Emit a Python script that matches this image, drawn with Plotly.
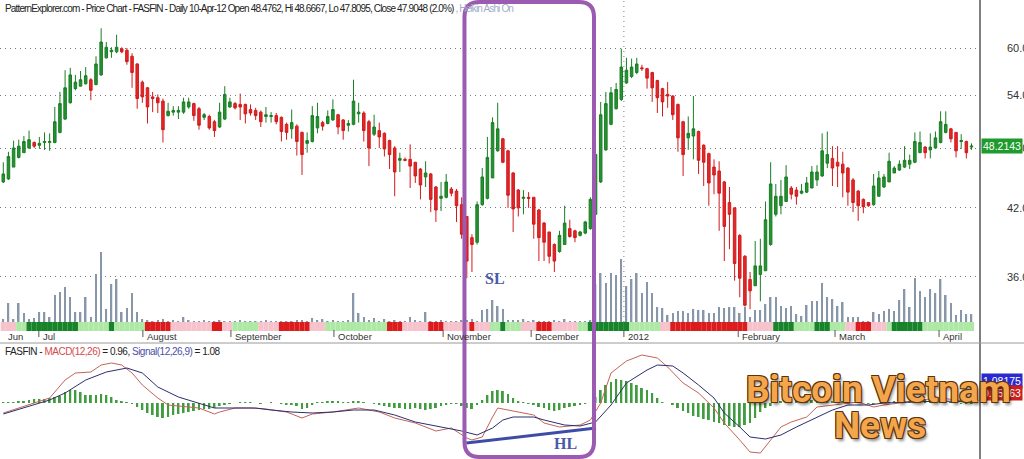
import math
import plotly.graph_objects as go

# ── Data ─────────────────────────────────────────────────────────────────────
# Heikin-Ashi candles, one per trading day, 21-Jun-2011 .. 10-Apr-2012

candle_open = [
    44.5, 44.8, 46.0, 47.0, 47.5, 48.0, 48.6, 48.3, 48.6, 48.6,
    48.6, 49.7, 51.2, 53.1, 54.8, 55.1, 55.4, 55.9, 55.3, 56.5,
    58.7, 59.5, 59.5, 59.9, 59.7, 58.9, 57.9, 55.6, 54.9, 53.8,
    53.7, 53.3, 51.6, 52.0, 52.0, 52.0, 52.6, 53.0, 52.4, 51.4,
    51.5, 50.9, 50.3, 51.2, 52.6, 53.0, 52.9, 52.9, 52.3, 52.2,
    52.0, 51.5, 51.5, 51.6, 51.4, 50.6, 50.1, 50.4, 49.7, 48.5,
    48.7, 50.2, 50.8, 50.7, 51.1, 51.7, 51.1, 50.5, 50.6, 51.8,
    51.9, 50.9, 49.5, 49.9, 49.6, 48.8, 48.0, 46.7, 46.8, 46.8,
    46.5, 45.8, 45.0, 45.3, 44.0, 42.9, 43.0, 43.8, 43.6, 42.3,
    41.2, 39.3, 38.9, 42.3, 42.9, 44.9, 47.7, 49.0, 47.7, 45.4,
    43.7, 42.9, 43.0, 43.0, 41.8, 40.6, 39.8, 38.7, 38.1, 38.7,
    40.1, 39.9, 39.5, 39.7, 40.1, 41.4, 44.5, 47.8, 50.6, 52.4,
    53.5, 55.5, 56.3, 56.8, 57.4, 57.3, 56.8, 55.8, 54.8, 54.1,
    53.9, 52.9, 50.9, 49.1, 49.3, 49.8, 48.3, 47.4, 46.0, 45.6,
    44.5, 42.5, 42.0, 39.5, 37.7, 35.8, 35.3, 36.2, 36.5, 38.7,
    41.4, 42.2, 42.6, 43.9, 43.7, 43.4, 43.5, 43.9, 44.7, 45.1,
    46.4, 46.9, 46.5, 46.3, 45.9, 44.7, 43.6, 42.8, 42.5, 42.3,
    43.1, 44.0, 44.5, 45.4, 45.7, 46.0, 46.3, 46.5, 47.5, 48.1,
    47.8, 48.0, 48.6, 49.7, 50.1, 49.7, 48.7, 48.7, 48.1,
]
candle_high = [
    46.5, 47.6, 48.8, 48.9, 49.3, 49.9, 48.7, 49.2, 49.7, 49.6,
    52.6, 54.4, 57.1, 57.4, 56.5, 57.0, 57.5, 56.1, 58.9, 62.7,
    60.8, 60.1, 61.8, 60.1, 60.0, 59.3, 58.0, 55.8, 55.0, 54.4,
    54.1, 53.6, 53.1, 52.7, 52.7, 53.7, 53.7, 53.1, 52.6, 51.9,
    51.7, 51.1, 53.1, 55.1, 53.7, 53.2, 54.2, 53.0, 52.9, 52.5,
    52.2, 52.6, 52.0, 51.9, 51.5, 50.8, 52.3, 50.6, 49.8, 49.7,
    52.7, 53.1, 51.0, 52.2, 53.5, 51.8, 51.2, 51.1, 55.9, 53.1,
    52.1, 51.1, 51.7, 50.8, 49.7, 48.9, 48.2, 47.5, 47.0, 48.4,
    46.5, 45.9, 46.6, 45.4, 44.1, 44.5, 45.3, 44.0, 43.8, 43.0,
    41.2, 39.6, 42.6, 45.9, 49.2, 51.4, 53.1, 49.1, 47.8, 45.5,
    43.8, 43.7, 43.5, 43.0, 41.9, 40.7, 39.8, 38.8, 39.9, 42.2,
    40.9, 40.0, 39.9, 40.8, 43.0, 48.6, 53.2, 54.4, 55.0, 55.5,
    59.9, 58.7, 58.6, 58.7, 57.8, 57.4, 56.9, 55.9, 54.9, 55.6,
    54.0, 53.0, 51.0, 51.5, 53.9, 49.9, 48.4, 47.5, 46.8, 46.6,
    44.6, 44.0, 42.0, 39.6, 37.8, 36.4, 39.0, 39.2, 42.6, 46.5,
    44.3, 44.7, 46.2, 44.1, 44.0, 44.3, 45.0, 46.1, 46.2, 49.6,
    49.8, 48.2, 48.2, 47.6, 46.0, 44.9, 43.7, 42.9, 42.5, 45.3,
    45.6, 45.3, 47.5, 46.1, 46.7, 48.2, 47.3, 49.7, 49.8, 48.2,
    49.6, 49.8, 52.1, 52.1, 50.2, 49.7, 49.5, 48.8, 48.5,
]
candle_low = [
    44.4, 44.7, 46.0, 46.9, 47.5, 47.9, 48.0, 47.9, 47.8, 47.7,
    48.5, 49.6, 51.1, 53.0, 54.6, 55.1, 55.3, 53.4, 55.2, 56.4,
    58.6, 58.7, 59.3, 59.3, 57.8, 54.9, 52.4, 53.1, 50.7, 52.0,
    51.9, 48.6, 51.5, 51.6, 51.2, 51.8, 52.4, 51.0, 50.0, 51.1,
    50.0, 49.2, 50.2, 51.1, 52.5, 52.3, 51.1, 50.7, 51.6, 51.1,
    50.3, 50.8, 50.8, 50.6, 48.7, 48.9, 49.0, 47.2, 45.2, 47.5,
    48.6, 49.6, 49.9, 50.6, 51.0, 49.5, 48.9, 49.8, 50.5, 50.8,
    48.7, 46.1, 49.3, 48.0, 47.1, 45.8, 43.1, 45.5, 46.6, 43.9,
    44.4, 42.8, 44.0, 41.6, 40.7, 41.7, 42.9, 43.1, 40.7, 39.2,
    35.9, 36.4, 38.7, 42.2, 42.8, 44.9, 47.6, 46.4, 42.0, 39.8,
    41.2, 41.4, 42.0, 39.2, 37.3, 37.3, 37.1, 36.4, 38.0, 38.7,
    39.3, 38.9, 39.4, 39.6, 40.0, 41.3, 44.4, 47.7, 50.5, 52.3,
    53.3, 55.4, 56.1, 56.6, 57.0, 54.8, 53.2, 51.9, 51.5, 52.5,
    51.1, 47.6, 45.1, 47.8, 46.8, 45.3, 44.1, 42.2, 43.3, 39.9,
    37.3, 38.3, 35.7, 34.4, 33.7, 33.5, 35.3, 34.1, 36.5, 38.6,
    41.2, 41.4, 42.6, 42.8, 42.3, 43.3, 43.4, 43.9, 44.1, 45.0,
    45.9, 44.1, 44.0, 43.0, 42.2, 41.6, 40.8, 41.5, 42.1, 42.2,
    43.1, 43.9, 44.5, 45.4, 45.6, 45.9, 45.8, 46.4, 47.5, 46.9,
    46.9, 48.0, 48.5, 49.6, 48.6, 47.0, 47.9, 46.9, 47.8,
]
candle_close = [
    45.3, 47.1, 48.0, 48.2, 48.7, 48.9, 48.2, 48.5, 48.7, 48.7,
    50.9, 53.0, 54.9, 56.5, 55.6, 55.9, 56.4, 54.6, 57.9, 60.8,
    60.1, 59.7, 60.1, 59.5, 58.2, 56.8, 53.6, 53.8, 52.6, 53.6,
    53.1, 50.0, 52.1, 52.2, 52.2, 53.2, 53.2, 51.6, 50.5, 51.7,
    50.2, 49.9, 52.0, 54.1, 53.2, 52.5, 52.6, 51.8, 51.9, 51.6,
    50.9, 51.7, 51.6, 50.9, 49.8, 49.7, 50.8, 48.7, 47.3, 48.8,
    51.6, 51.5, 50.4, 51.5, 52.3, 50.3, 49.9, 50.7, 53.3, 52.0,
    49.9, 48.0, 50.3, 49.2, 47.9, 47.3, 45.5, 46.9, 46.7, 46.1,
    45.1, 44.2, 45.4, 42.8, 41.8, 43.1, 44.5, 43.4, 42.2, 39.6,
    37.3, 38.7, 42.3, 45.0, 47.0, 50.8, 50.1, 46.5, 43.2, 41.9,
    42.0, 43.0, 42.9, 40.5, 39.3, 38.9, 37.7, 37.3, 39.5, 40.6,
    39.4, 39.3, 39.8, 40.7, 42.8, 47.3, 51.7, 53.0, 54.3, 54.7,
    57.5, 57.1, 57.5, 57.9, 57.3, 56.1, 54.9, 53.7, 53.2, 53.9,
    51.7, 49.1, 47.3, 49.6, 50.1, 46.7, 46.5, 44.4, 45.2, 43.4,
    40.3, 41.4, 37.1, 35.9, 33.8, 34.9, 36.9, 36.9, 40.9, 44.3,
    43.1, 43.1, 45.0, 43.3, 43.1, 43.6, 44.4, 45.5, 45.5, 47.7,
    47.3, 45.9, 46.1, 45.4, 43.5, 42.5, 42.2, 42.1, 42.2, 44.1,
    44.9, 45.0, 46.6, 45.9, 46.3, 46.7, 46.7, 48.7, 48.6, 47.5,
    48.1, 49.1, 50.9, 50.6, 49.0, 47.7, 48.8, 47.5, 48.2,
]
# volume, thousands
volume = [
    30, 190, 30, 190, 90, 30, 40, 100, 100, 50,
    270, 300, 350, 250, 100, 100, 250, 50, 480, 700,
    130, 380, 430, 100, 140, 290, 100, 30, 20, 10,
    20, 30, 10, 20, 10, 50, 20, 10, 10, 20,
    10, 10, 20, 10, 10, 10, 20, 10, 10, 10,
    10, 20, 10, 10, 10, 10, 10, 20, 20, 10,
    40, 20, 30, 10, 20, 10, 10, 20, 290, 90,
    50, 20, 40, 10, 30, 10, 20, 10, 10, 50,
    20, 10, 100, 10, 10, 20, 10, 10, 10, 20,
    20, 30, 10, 120, 130, 220, 160, 130, 20, 20,
    20, 30, 10, 20, 10, 10, 10, 20, 10, 30,
    10, 10, 10, 10, 20, 380, 490, 390, 490, 470,
    630, 360, 430, 490, 290, 400, 290, 150, 140, 70,
    90, 110, 110, 90, 130, 120, 120, 90, 90, 150,
    140, 150, 150, 90, 150, 50, 120, 120, 180, 250,
    250, 160, 140, 160, 80, 60, 170, 210, 210, 390,
    250, 230, 160, 200, 50, 50, 50, 10, 10, 100,
    80, 110, 130, 110, 220, 330, 150, 440, 310, 250,
    330, 290, 430, 270, 190, 70, 120, 80, 80,
]
# trend strip under the volume: (state, number of days)
band_runs = [
    ("p", 3), ("g", 2), ("G", 10), ("g", 6), ("G", 1), ("g", 6), ("R", 5),
    ("p", 8), ("R", 2), ("p", 2), ("g", 5), ("p", 4), ("R", 6), ("p", 3),
    ("g", 12), ("R", 3), ("p", 5), ("R", 3), ("p", 5), ("R", 1), ("p", 3),
    ("g", 2), ("G", 1), ("g", 3), ("p", 3), ("R", 3), ("p", 5), ("g", 2),
    ("G", 8), ("g", 6), ("p", 2), ("R", 15), ("p", 5), ("G", 4), ("g", 4),
    ("G", 3), ("g", 3), ("p", 2), ("R", 3), ("p", 3), ("g", 1), ("G", 6),
    ("g", 10),
]

# MACD(12,26) and signal, sampled at these day numbers
macd_day = [
    1, 7, 10, 13, 15, 18, 20, 22, 24, 26, 28, 31, 33, 37, 39, 42, 43, 46, 49, 52,
    56, 59, 61, 65, 70, 74, 77, 81, 85, 88, 91, 92, 94, 96, 97, 99, 104, 106, 109, 113,
    115, 117, 119, 122, 125, 128, 130, 133, 136, 139, 141, 144, 146, 148, 150, 152, 154, 157, 159, 162,
    165, 167, 170, 172, 175, 179, 183, 186, 189,
]
macd_line = [
    -1.0, 0.0, 0.5, 2.3, 3.0, 3.1, 3.8, 4.0, 3.8, 3.0, 1.8, 0.5, -0.2, -0.4, -0.5, -1.1, -0.9, -0.5, -0.5, -0.6,
    -0.9, -1.5, -1.1, -0.9, -0.5, -0.9, -1.5, -2.0, -2.8, -2.5, -3.5, -3.7, -3.4, -1.4, -0.5, -0.7, -1.2, -2.0, -2.4, -2.2,
    -1.7, 0.0, 3.0, 4.2, 4.8, 4.5, 3.6, 2.0, 1.0, -0.5, -2.0, -3.7, -4.9, -5.0, -3.7, -2.4, -1.9, -1.4, -0.4, -0.2,
    0.0, 0.1, -0.4, -0.2, 0.0, 0.3, 0.5, 0.3, 0.1,
]
signal_day = [
    1, 7, 10, 13, 17, 21, 25, 28, 31, 35, 39, 42, 46, 50, 53, 57, 61, 65, 69, 73,
    77, 81, 86, 90, 93, 96, 98, 100, 104, 106, 110, 113, 116, 119, 122, 126, 128, 131, 133, 136,
    139, 141, 144, 146, 149, 152, 155, 159, 162, 165, 169, 172, 178, 183, 189,
]
signal_line = [
    -1.1, -0.2, 0.3, 1.0, 2.3, 3.1, 3.5, 3.0, 1.6, 0.6, 0.0, -0.5, -0.5, -0.5, -0.7, -0.9, -1.0, -0.9, -0.7, -0.7,
    -1.2, -1.9, -2.4, -2.8, -3.2, -2.5, -1.7, -1.4, -1.4, -1.7, -2.2, -2.3, -1.9, -0.2, 2.0, 3.3, 3.8, 3.7, 3.0, 1.8,
    0.5, -1.0, -2.4, -3.4, -3.6, -3.2, -2.4, -1.4, -0.7, -0.2, -0.2, 0.0, 0.1, 0.2, 0.1,
]
macd_hist = [
    0.1, 0.1, 0.1, 0.2, 0.2, 0.3, 0.4, 0.4, 0.4, 0.5,
    0.6, 0.7, 1.1, 1.3, 1.3, 1.1, 0.8, 0.8, 0.8, 0.9,
    0.8, 0.6, 0.3, 0.2, 0.1, -0.1, -0.4, -0.7, -1.0, -1.2,
    -1.4, -1.5, -1.4, -1.2, -1.1, -1.0, -0.9, -0.8, -0.7, -0.6,
    -0.6, -0.5, -0.3, -0.2, -0.1, 0.0, 0.1, 0.1, 0.1, 0.0,
    -0.1, 0.0, 0.1, 0.0, -0.1, -0.2, -0.2, -0.3, -0.6, -0.5,
    -0.2, 0.1, 0.1, 0.2, 0.2, 0.2, 0.1, 0.1, 0.2, 0.2,
    0.1, 0.0, -0.1, -0.2, -0.3, -0.4, -0.5, -0.5, -0.6, -0.6,
    -0.5, -0.6, -0.7, -0.6, -0.5, -0.3, -0.2, -0.1, -0.1, -0.3,
    -0.5, -0.6, -0.2, 0.3, 0.8, 1.2, 1.3, 1.2, 0.9, 0.5,
    0.2, 0.1, -0.1, -0.2, -0.4, -0.5, -0.7, -0.8, -0.7, -0.5,
    -0.4, -0.3, -0.2, -0.1, 0.0, 0.6, 1.3, 1.8, 2.1, 2.4,
    2.3, 2.2, 2.0, 1.8, 1.5, 1.3, 1.0, 0.5, 0.1, 0.0,
    -0.2, -0.5, -0.8, -1.0, -1.3, -1.4, -1.6, -1.7, -1.9, -2.0,
    -2.2, -2.3, -2.4, -2.4, -2.2, -2.0, -1.5, -0.9, -0.5, -0.3,
    0.1, 0.2, 0.3, 0.3, 0.4, 0.4, 0.4, 0.3, 0.3, 0.3,
    0.3, 0.2, 0.2, 0.2, 0.1, 0.1, 0.1, 0.0, -0.1, -0.1,
    0.0, 0.1, 0.1, 0.2, 0.2, 0.2, 0.2, 0.3, 0.3, 0.3,
    0.2, 0.2, 0.2, 0.2, 0.1, 0.0, -0.1, -0.1, -0.1,
]

month_ticks = [7.9, 28.1, 45.2, 65.2, 86.4, 103.5, 121.5, 143.7, 162.5, 182.7]
month_labels = ["Jul", "August", "September", "October", "November",
                "December", "2012", "February", "March", "April"]
price_ticks = [36, 42, 48, 54, 60]
last_price = 48.2143
stop_level = 37.2

# ── Layout helpers ────────────────────────────────────────────────────────────

W, H = 1024, 459
PLOT_RIGHT = 980
SANS = "Liberation Sans Narrow, Arial Narrow, Liberation Sans, Arial, sans-serif"


def py(px):
    """pixel row -> paper y"""
    return 1 - px / H


def px_(px):
    """pixel column -> paper x (plot area is 0..PLOT_RIGHT)"""
    return px / PLOT_RIGHT


days = list(range(1, len(candle_close) + 1))

band_palette = {"p": "#f6c2cb", "g": "#ade8a5", "R": "#dc1c1c", "G": "#17842a"}
band_colors = []
for state, n in band_runs:
    band_colors += [band_palette[state]] * n

# ── Traces ────────────────────────────────────────────────────────────────────

fig = go.Figure()

fig.add_trace(go.Bar(
    x=days, y=volume, width=0.3, xaxis="x", yaxis="y",
    marker=dict(color="#8797a9", line=dict(width=0)),
))
fig.add_trace(go.Bar(
    x=days, y=[1] * len(days), width=1.0, xaxis="x", yaxis="y2",
    marker=dict(color=band_colors, line=dict(width=0)),
))
fig.add_trace(go.Candlestick(
    x=days, open=candle_open, high=candle_high, low=candle_low, close=candle_close,
    xaxis="x", yaxis="y3", whiskerwidth=0,
    increasing=dict(line=dict(color="#1b7d26", width=1), fillcolor="#23932f"),
    decreasing=dict(line=dict(color="#d01b1b", width=1), fillcolor="#e3262a"),
))
fig.add_trace(go.Bar(
    x=days, y=macd_hist, width=0.38, xaxis="x2", yaxis="y4",
    marker=dict(color="#3f9c3f", line=dict(width=0)),
))
fig.add_trace(go.Scatter(
    x=macd_day, y=macd_line, mode="lines", xaxis="x2", yaxis="y4",
    line=dict(color="#c3645a", width=1),
))
fig.add_trace(go.Scatter(
    x=signal_day, y=signal_line, mode="lines", xaxis="x2", yaxis="y4",
    line=dict(color="#2b2e6c", width=1),
))

# ── Axes ──────────────────────────────────────────────────────────────────────

x_range = [0.36, 190.65]
hidden = dict(showgrid=False, zeroline=False, showticklabels=False, ticks="",
              showline=False, automargin=False)

fig.update_layout(
    width=W, height=H, autosize=False,
    margin=dict(l=0, r=W - PLOT_RIGHT, t=0, b=0, pad=0),
    paper_bgcolor="white", plot_bgcolor="white",
    showlegend=False, barmode="overlay",
    xaxis=dict(domain=[0, 1], range=x_range, anchor="y",
               rangeslider=dict(visible=False), **hidden),
    xaxis2=dict(domain=[0, 1], range=x_range, anchor="y4", matches="x", **hidden),
    yaxis=dict(domain=[py(331), 1], range=[-90, 3220], **hidden),
    yaxis2=dict(overlaying="y", range=[0, 331 / 9], **hidden),
    yaxis3=dict(
        overlaying="y", side="right", type="log", automargin=False,
        range=[math.log10(60) - (331 - 48) / 1032, math.log10(60) + 48 / 1032],
        tickvals=price_ticks, ticktext=[f"{v:.2f}" for v in price_ticks],
        tickfont=dict(family=SANS, size=11, color="#333333"),
        ticks="", ticklabelstandoff=26,
        showgrid=True, gridcolor="#7a7a7a", gridwidth=1, griddash="1px,4px",
        zeroline=False, showline=False,
    ),
    yaxis4=dict(domain=[0, py(345)], range=[-5.6, 5.8], anchor="x2", **hidden),
)

# ── Shapes ────────────────────────────────────────────────────────────────────

shapes = [
    dict(type="line", xref="paper", yref="paper", x0=1, x1=1, y0=0, y1=1,
         line=dict(color="black", width=1)),
    dict(type="line", xref="paper", yref="paper", x0=0, x1=W / PLOT_RIGHT,
         y0=py(343), y1=py(343), line=dict(color="#9a9a9a", width=1)),
    dict(type="line", xref="x", yref="paper", x0=121.5, x1=121.5, y0=py(322), y1=1,
         line=dict(color="#7a7a7a", width=1, dash="1px,4px")),
]
for t in month_ticks:
    shapes.append(dict(type="line", xref="x", yref="paper", x0=t, x1=t,
                       y0=py(337), y1=py(330), line=dict(color="#555555", width=1)))

# stop-loss level and higher-low line on the MACD
shapes.append(dict(type="line", xref="x", yref="y3", x0=90.3, x1=117.6,
                   y0=math.log10(stop_level), y1=math.log10(stop_level),
                   line=dict(color="#3f4ca6", width=3)))
shapes.append(dict(type="line", xref="x2", yref="y4", x0=90.9, x1=116.1, y0=-4.0, y1=-2.5,
                   line=dict(color="#3f4ca6", width=3)))

# purple rounded box around the Nov-Dec base
x0, x1 = 90.55, 115.7
yt, yb = py(2), py(457)
rx, ry = 15 / 5.15, 15 / H
box_path = (
    f"M {x0 + rx},{yt} L {x1 - rx},{yt} Q {x1},{yt} {x1},{yt - ry} "
    f"L {x1},{yb + ry} Q {x1},{yb} {x1 - rx},{yb} L {x0 + rx},{yb} "
    f"Q {x0},{yb} {x0},{yb + ry} L {x0},{yt - ry} Q {x0},{yt} {x0 + rx},{yt} Z"
)
shapes.append(dict(type="path", xref="x", yref="paper", path=box_path,
                   line=dict(color="#9b5bb0", width=4)))

fig.update_layout(shapes=shapes)

# ── Annotations ───────────────────────────────────────────────────────────────

tight = "letter-spacing:-0.85px"
ann = [
    dict(xref="paper", yref="paper", x=px_(3), y=py(8), xanchor="left", yanchor="middle",
         showarrow=False, font=dict(family=SANS, size=10, color="#222222"),
         text=f"<span style='{tight}'>PatternExplorer.com - Price Chart - FASFIN - Daily "
              "10-Apr-12 Open 48.4762, Hi 48.6667, Lo 47.8095, Close 47.9048 (2.0%)</span>"
              f"<span style='{tight};color:#9fabc6'> , Heikin Ashi On</span>"),
    dict(xref="paper", yref="paper", x=px_(3), y=py(351), xanchor="left", yanchor="middle",
         showarrow=False, font=dict(family=SANS, size=10, color="#222222"),
         text="<span style='letter-spacing:-0.5px'>FASFIN - </span>"
              "<span style='letter-spacing:-0.5px;color:#d24b4b'>MACD(12,26)</span>"
              "<span style='letter-spacing:-0.5px'> = 0.96, </span>"
              "<span style='letter-spacing:-0.5px;color:#4d4fa6'>Signal(12,26,9)</span>"
              "<span style='letter-spacing:-0.5px'> = 1.08</span>"),
]
label_font = dict(family=SANS, size=9.5, color="#333333")
ann.append(dict(xref="paper", yref="paper", x=px_(6), y=py(336), xanchor="left",
                yanchor="middle", showarrow=False, font=label_font, text="Jun"))
for t, lab in zip(month_ticks, month_labels):
    ann.append(dict(xref="x", yref="paper", x=t + 0.4, y=py(336), xanchor="left",
                    yanchor="middle", showarrow=False, font=label_font, text=lab))

# last price marker on the right axis, and the MACD value boxes
box_font = dict(family=SANS, size=10.5, color="white")
ann.append(dict(xref="paper", yref="y3", x=px_(PLOT_RIGHT + 1), y=math.log10(last_price),
                xanchor="left", yanchor="middle", showarrow=False,
                text=f"{last_price:.4f}", bgcolor="#1f9a2c", borderpad=1, font=box_font))
ann.append(dict(xref="paper", yref="paper", x=px_(PLOT_RIGHT + 1), y=py(381),
                xanchor="left", yanchor="middle", showarrow=False,
                text="1.08175", bgcolor="#2a2ad0", borderpad=1, font=box_font))
ann.append(dict(xref="paper", yref="paper", x=px_(PLOT_RIGHT + 1), y=py(393),
                xanchor="left", yanchor="middle", showarrow=False,
                text="0.95963", bgcolor="#cc2020", borderpad=1, font=box_font))

serif = dict(family="Liberation Serif, Times New Roman, serif", size=16, color="#4a5aa8",
             weight="bold")
ann.append(dict(xref="x", yref="y3", x=96.5, y=math.log10(35.85), showarrow=False,
                xanchor="center", yanchor="middle", text="SL", font=serif))
ann.append(dict(xref="x2", yref="y4", x=110.1, y=-4.0, showarrow=False,
                xanchor="center", yanchor="middle", text="HL", font=serif))

# watermark
outline = "#5c3208"
wm_font = dict(
    family="Roboto, DejaVu Sans, sans-serif", size=37, color="#f4a64c", weight="bold",
    shadow=f"-1px -1px 0 {outline}, 1px -1px 0 {outline}, -1px 1px 0 {outline}, "
           f"1px 1px 0 {outline}, 2px 3px 3px rgba(0,0,0,0.45)",
)
ann.append(dict(xref="paper", yref="paper", x=px_(878), y=py(389), showarrow=False,
                xanchor="center", yanchor="middle", text="Bitcoin Vietnam", font=wm_font))
ann.append(dict(xref="paper", yref="paper", x=px_(880), y=py(425), showarrow=False,
                xanchor="center", yanchor="middle", text="News", font=wm_font))

fig.update_layout(annotations=ann)

# drop the page's default body margin / scrollbar so the chart sits at 0,0
page_fix = "document.body.style.margin='0';document.body.style.overflow='hidden';"
fig.write_html("out.html", post_script=page_fix,
               config={"displayModeBar": False, "responsive": False})
